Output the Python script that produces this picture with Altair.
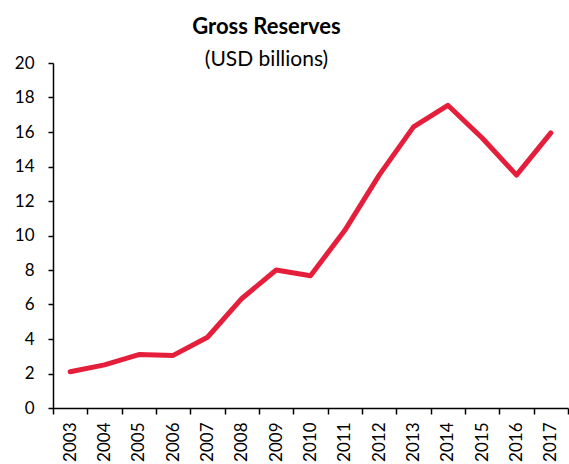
import altair as alt
import pandas as pd

years = [str(y) for y in range(2003, 2018)]
reserves = [2.1, 2.5, 3.1, 3.05, 4.1, 6.35, 8.0, 7.67, 10.3, 13.5, 16.3, 17.55, 15.65, 13.5, 15.95]

df = pd.DataFrame({"year": years, "value": reserves})

FONT = "Lato"

chart = alt.Chart(df).mark_line(color="#E51F3B", strokeWidth=5, strokeJoin="round", strokeCap="round").encode(
    x=alt.X("year:N", sort=years, bandPosition=0.5,
            scale=alt.Scale(type="band", paddingInner=0, paddingOuter=0),
            axis=alt.Axis(title=None, labelAngle=270, labelAlign="right", labelBaseline="middle",
                          labelPadding=8, tickBand="extent", tickSize=6, labelFontSize=17,
                          labelColor="black", domainColor="black", tickColor="black",
                          domainWidth=1.5, tickWidth=1.5, labelFont=FONT)),
    y=alt.Y("value:Q", scale=alt.Scale(domain=[0, 20], nice=False),
            axis=alt.Axis(title=None, values=list(range(0, 21, 2)), tickSize=5, labelPadding=14,
                          labelFontSize=17, labelColor="black", domainColor="black",
                          tickColor="black", domainWidth=1.5, tickWidth=1.5, grid=False,
                          labelFont=FONT)),
).properties(
    width=515, height=345,
    title=alt.Title(text="Gross Reserves", subtitle="(USD billions)", font=FONT, fontSize=22,
                    fontWeight="bold", color="black", subtitleFont=FONT, subtitleFontSize=21,
                    subtitleColor="black", anchor="middle", dx=-44, offset=-17, subtitlePadding=10),
    autosize=alt.AutoSizeParams(type="none"),
    padding={"left": 53, "top": 63, "right": 1, "bottom": 56},
).configure_view(stroke=None)

chart.save("out.html", embed_options={"renderer": "svg", "actions": False})
